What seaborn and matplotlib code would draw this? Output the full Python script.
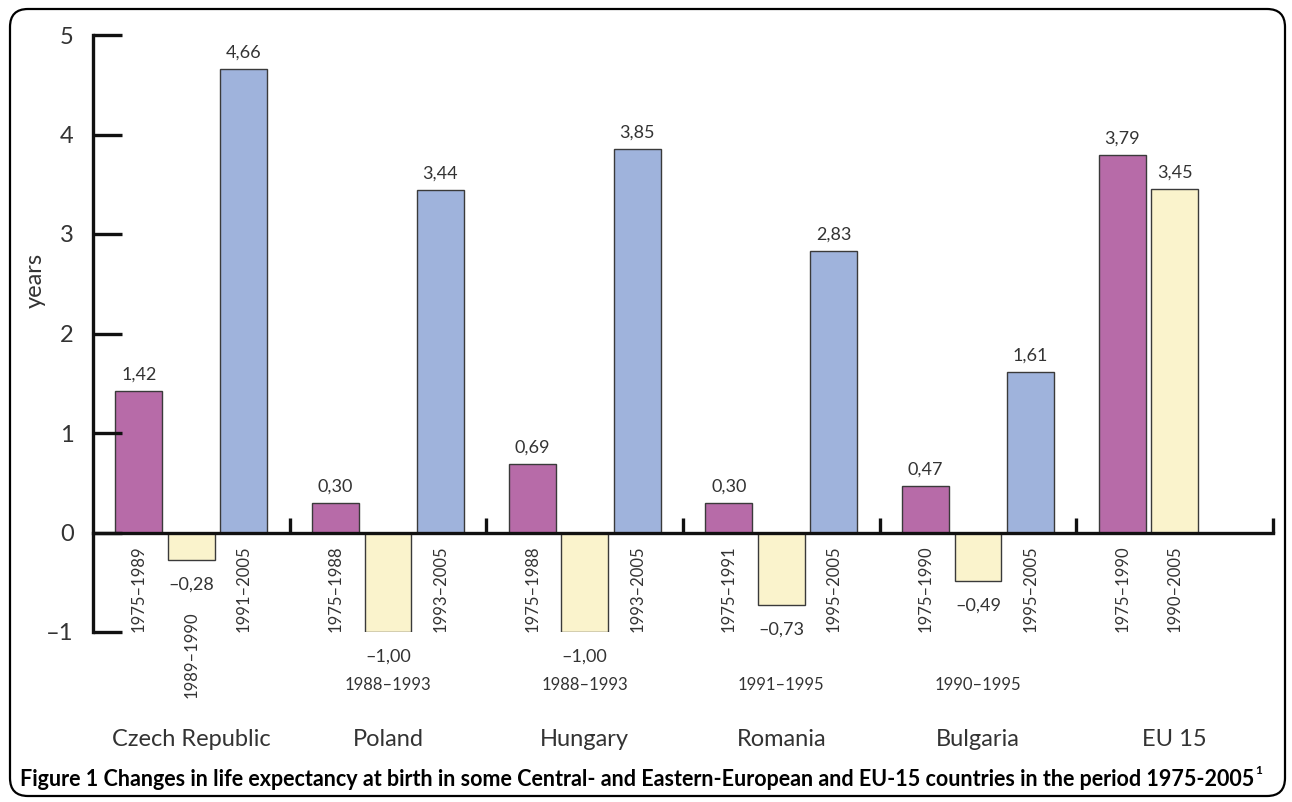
import numpy as np
import pandas as pd
import seaborn as sns
import matplotlib.pyplot as plt
from matplotlib.patches import FancyBboxPatch
from matplotlib.transforms import IdentityTransform, blended_transform_factory

# Change in life expectancy at birth (years) per period
countries = ["Czech Republic", "Poland", "Hungary", "Romania", "Bulgaria", "EU 15"]
first_period = ["1975–1989", "1975–1988", "1975–1988", "1975–1991", "1975–1990", "1975–1990"]
first_change = [1.42, 0.30, 0.69, 0.30, 0.47, 3.79]
second_period = ["1989–1990", "1988–1993", "1988–1993", "1991–1995", "1990–1995", "1990–2005"]
second_change = [-0.28, -1.00, -1.00, -0.73, -0.49, 3.45]
third_period = ["1991–2005", "1993–2005", "1993–2005", "1995–2005", "1995–2005"]
third_change = [4.66, 3.44, 3.85, 2.83, 1.61]
y_tick_values = [-1, 0, 1, 2, 3, 4, 5]
y_tick_labels = ["–1", "0", "1", "2", "3", "4", "5"]

slot_colors = {"a": "#b76ba8", "b": "#faf3cc", "c": "#9fb3dc"}

rows = []
for c, p, v in zip(countries, first_period, first_change):
    rows.append({"country": c, "slot": "a", "period": p, "change": v})
for c, p, v in zip(countries, second_period, second_change):
    rows.append({"country": c, "slot": "b", "period": p, "change": v})
for c, p, v in zip(countries, third_period, third_change):
    rows.append({"country": c, "slot": "c", "period": p, "change": v})
df = pd.DataFrame(rows)

sns.set_theme(style="white")
plt.rcParams["font.family"] = ["Lato", "DejaVu Sans"]

W, H = 1292, 802
fig = plt.figure(figsize=(W / 100, H / 100), dpi=100)
ax = fig.add_axes([93 / W, 170 / H, 1180 / W, 597 / H])

sns.barplot(data=df, x="country", y="change", hue="slot", order=countries,
            hue_order=["a", "b", "c"], palette=slot_colors, saturation=1,
            width=0.8, gap=0.105, dodge=True, errorbar=None, legend=False,
            edgecolor="#3a3a3a", linewidth=1.0, ax=ax)

ax.set_xlim(-0.5, 5.5)
ax.set_ylim(-1, 5)
ax.set_xlabel("")
ax.set_ylabel("")

for s in ("top", "right"):
    ax.spines[s].set_visible(False)
ax.spines["left"].set_linewidth(2.4)
ax.spines["left"].set_color("#111111")
ax.spines["bottom"].set_position(("data", 0))
ax.spines["bottom"].set_linewidth(2.4)
ax.spines["bottom"].set_color("#111111")
ax.set_axisbelow(False)

ax.set_yticks(y_tick_values)
ax.set_yticklabels(y_tick_labels)
ax.tick_params(axis="y", direction="in", length=21, width=2.4, color="#111111",
               pad=14, labelsize=17, labelcolor="#333333", left=True)
ax.set_xticks(range(len(countries)))
ax.tick_params(axis="x", which="major", length=0, labelbottom=False)
ax.set_xticks(np.arange(0.5, len(countries), 1.0), minor=True)
ax.tick_params(axis="x", which="minor", direction="in", length=11, width=2.4,
               color="#111111", bottom=True)

# value and period labels
text_color = "#333333"
slot_order = ["a", "b", "c"]
for h, cont in zip(slot_order, ax.containers):
    sub = df[df["slot"] == h].set_index("country")
    for patch in cont.patches:
        cx = patch.get_x() + patch.get_width() / 2
        ci = int(round(cx))
        country = countries[ci]
        if country not in sub.index:
            continue
        v = sub.loc[country, "change"]
        period = sub.loc[country, "period"]
        txt = f"{abs(v):.2f}".replace(".", ",")
        if v < 0:
            txt = "–" + txt
            ax.annotate(txt, (cx, v), xytext=(0, -12), textcoords="offset points",
                        ha="center", va="top", fontsize=13, color=text_color)
        else:
            ax.annotate(txt, (cx, v), xytext=(0, 6), textcoords="offset points",
                        ha="center", va="bottom", fontsize=13, color=text_color)
        # period label under the zero line
        if h == "b" and v < 0:
            if ci == 0:
                ax.annotate(period, (cx, 0), xytext=(0, -57), textcoords="offset points",
                            ha="center", va="top", rotation=90, fontsize=12,
                            color=text_color, annotation_clip=False)
            else:
                ax.annotate(period, (cx, 0), xytext=(0, -110), textcoords="offset points",
                            ha="center", va="center", fontsize=12,
                            color=text_color, annotation_clip=False)
        else:
            ax.annotate(period, (cx, 0), xytext=(0, -9), textcoords="offset points",
                        ha="center", va="top", rotation=90, fontsize=12,
                        color=text_color, annotation_clip=False)

# country names
trans = blended_transform_factory(ax.transData, fig.transFigure)
for i, c in enumerate(countries):
    ax.text(i, 1 - 740 / H, c, transform=trans, ha="center", va="center",
            fontsize=17, color=text_color, clip_on=False)

fig.text(35 / W, 1 - 280 / H, "years", rotation=90, ha="center", va="center",
         fontsize=17, color=text_color)

caption = fig.text(20 / W, 1 - 780 / H,
                   "Figure 1 Changes in life expectancy at birth in some Central- and "
                   "Eastern-European and EU-15 countries in the period 1975-2005",
                   ha="left", va="center", fontsize=15.5, fontweight="bold", color="black")
fig.canvas.draw()
bb = caption.get_window_extent(renderer=fig.canvas.get_renderer())
fig.text((bb.x1 + 1) / W, (bb.y1 + 4) / H, "1", ha="left", va="top",
         fontsize=8.5, fontweight="bold", color="black")

# rounded frame around the figure
frame = FancyBboxPatch((10, 6), 1275, 787, boxstyle="round,pad=0,rounding_size=18",
                       transform=IdentityTransform(), fill=False, lw=1.6,
                       edgecolor="black")
fig.patches.append(frame)

fig.savefig("out.png", dpi=100)
